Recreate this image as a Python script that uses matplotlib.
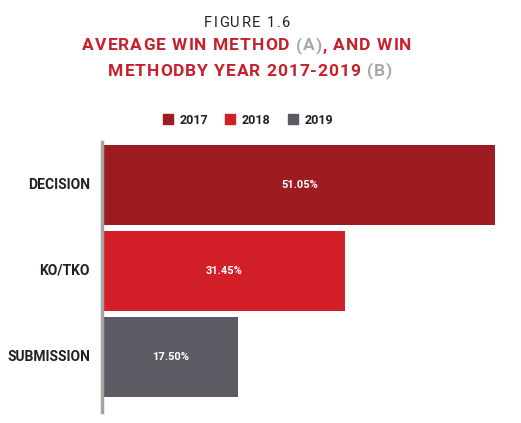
import matplotlib
matplotlib.use("Agg")
import matplotlib.pyplot as plt

categories = ["DECISION", "KO/TKO", "SUBMISSION"]
values = [51.05, 31.45, 17.50]
years = ["2017", "2018", "2019"]
colors = ["#9C1C21", "#D32028", "#5B5C63"]

FONT = ["Roboto", "DejaVu Sans"]
RED = "#C8202B"
GREY = "#A9A9A9"
DARK = "#231F20"

fig = plt.figure(figsize=(5.21, 4.23), dpi=100)
W, H = 521, 423


def px(x0, y0, x1, y1):
    # pixel box -> figure fraction rect
    return [x0 / W, 1 - y1 / H, (x1 - x0) / W, (y1 - y0) / H]


renderer = fig.canvas.get_renderer()


def spaced(xc, yc, pieces, size, weight, track):
    # draw text with extra letter spacing, centred at pixel (xc, yc)
    chars = []
    for txt, col in pieces:
        for ch in txt:
            t = fig.text(0, 0, ch, fontsize=size, family=FONT, weight=weight)
            w = t.get_window_extent(renderer).width
            t.remove()
            chars.append((ch, col, w))
    total = sum(w for _, _, w in chars) + track * (len(chars) - 1)
    x = xc - total / 2
    for ch, col, w in chars:
        fig.text(x / W, 1 - yc / H, ch, fontsize=size, family=FONT,
                 weight=weight, color=col, va="center", ha="left")
        x += w + track


spaced(247, 23, [("FIGURE 1.6", DARK)], 10.5, "normal", 1.5)
spaced(247, 46, [("AVERAGE WIN METHOD ", RED), ("(A)", GREY), (", AND WIN", RED)],
       12.5, "bold", 1.0)
spaced(250, 71, [("METHODBY YEAR 2017-2019 ", RED), ("(B)", GREY)],
       12.5, "bold", 0.9)

ax = fig.add_axes(px(104, 142, 495, 412))
y = list(range(len(categories)))
bars = ax.barh(y, values, height=0.93, color=colors)
ax.set_xlim(0, max(values))
ax.set_ylim(2.64, -0.5)
for b, v in zip(bars, values):
    ax.text(b.get_width() / 2, b.get_y() + b.get_height() / 2, f"{v:.2f}%",
            ha="center", va="center", color="white", fontsize=8,
            family=FONT, weight="bold")

# category labels, right aligned left of the axis line
ax.set_yticks([])
ax.set_xticks([])
for yi, cat in zip(y, categories):
    ax.text(-14 / 391, yi, cat, transform=ax.get_yaxis_transform(),
            ha="right", va="center", fontsize=10, family=FONT,
            weight="bold", color=DARK)

for s in ["top", "right", "bottom"]:
    ax.spines[s].set_visible(False)
ax.spines["left"].set_color("#A3A3A3")
ax.spines["left"].set_linewidth(2.5)
ax.spines["left"].set_position(("outward", 1.5))

handles = [plt.Rectangle((0, 0), 1, 1, color=c) for c in colors]
leg = fig.legend(handles, years, loc="center",
                 bbox_to_anchor=(248 / W, 1 - 120 / H), ncol=3, frameon=False,
                 handlelength=0.8, handleheight=0.8, handletextpad=0.55,
                 columnspacing=1.35,
                 prop={"family": FONT, "weight": "bold", "size": 9})
for t in leg.get_texts():
    t.set_color(DARK)

fig.savefig("out.png", dpi=100)
